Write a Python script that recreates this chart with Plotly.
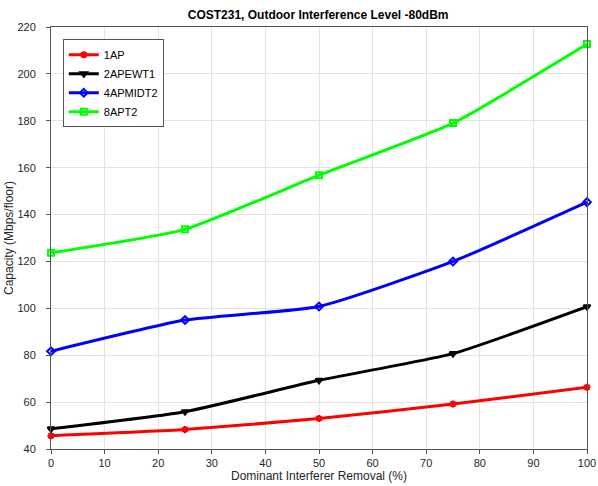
import plotly.graph_objects as go

x_vals = [0, 25, 50, 75, 100]
ap1 = [45.7, 48.3, 53.0, 59.2, 66.3]
ap2 = [48.6, 55.9, 69.3, 80.7, 100.7]
ap4 = [81.7, 95.0, 100.8, 120.0, 145.3]
ap8 = [123.7, 133.7, 156.8, 179.0, 212.7]
names = ["1AP", "2APEWT1", "4APMIDT2", "8APT2"]
colors = ["#ff0000", "#000000", "#0000ff", "#00ff00"]
symbols = ["asterisk-open", "triangle-down-open", "diamond-open", "square-open"]

fig = go.Figure()
for name, ys, c, s in zip(names, [ap1, ap2, ap4, ap8], colors, symbols):
    fig.add_trace(go.Scatter(
        x=x_vals, y=ys, name=name, mode="lines+markers",
        line=dict(color=c, width=3, shape="spline", smoothing=0.5),
        marker=dict(symbol=s, size=6, color=c, line=dict(color=c, width=2)),
        cliponaxis=False,
    ))

axis_common = dict(
    showgrid=True, gridcolor="#e3e3e3", gridwidth=1,
    showline=True, linecolor="#555555", linewidth=1, mirror=True,
    ticks="outside", ticklen=4, tickcolor="#555555",
    tickfont=dict(family="Liberation Sans, Arial", size=11, color="#262626"),
    zeroline=False, automargin=False,
)
fig.update_layout(
    width=598, height=486,
    margin=dict(l=51, r=11, t=27, b=37, autoexpand=False),
    paper_bgcolor="white", plot_bgcolor="white",
    title=dict(text="<b>COST231, Outdoor Interference Level -80dBm</b>",
               x=0.532, xanchor="center", y=0.978, yanchor="top",
               font=dict(family="Liberation Sans, Arial", size=12, color="black")),
    xaxis=dict(range=[0, 100], dtick=10,
               title=dict(text="Dominant Interferer Removal (%)", standoff=3,
                          font=dict(family="Liberation Sans, Arial", size=12, color="#262626")),
               **axis_common),
    yaxis=dict(range=[40, 220], dtick=20, ticklabelstandoff=8,
               title=dict(text="Capacity (Mbps/floor)", standoff=1,
                          font=dict(family="Liberation Sans, Arial", size=12, color="#262626")),
               **axis_common),
    legend=dict(x=0.022, y=0.971, xanchor="left", yanchor="top",
                bgcolor="white", bordercolor="#555555", borderwidth=1,
                font=dict(family="Liberation Sans, Arial", size=11, color="black"),
                tracegroupgap=0, itemwidth=30),
    showlegend=True,
)
fig.write_html("out.html", config={"displayModeBar": False},
               post_script="document.body.style.margin='0';document.body.style.overflow='hidden';")
